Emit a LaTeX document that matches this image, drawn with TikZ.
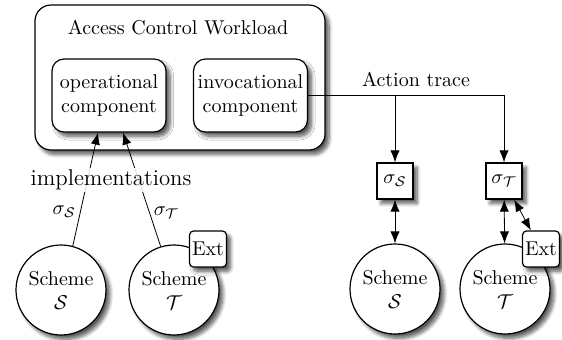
\documentclass[tikz,border=0pt]{standalone}
\usepackage{amsmath}
\usetikzlibrary{arrows.meta, shadows.blur}

\begin{document}
\begin{tikzpicture}[x=0.5pt, y=-0.5pt,
    shd/.style={blur shadow={shadow blur steps=8, shadow blur radius=1.8pt, shadow xshift=2pt, shadow yshift=-2.2pt, shadow opacity=65}},
    comp/.style={draw, line width=0.6pt, rounded corners=6pt, fill=white, shd, minimum width=57pt, minimum height=36.5pt, align=center, inner sep=1pt},
    scheme/.style={draw, line width=0.6pt, circle, fill=white, shd, minimum size=45pt, align=center, inner sep=0pt},
    sigbox/.style={draw, line width=0.6pt, fill=white, shd, minimum size=18pt, inner sep=1pt},
    extbox/.style={draw, line width=0.6pt, fill=white, rounded corners=2pt, shd, minimum width=18.5pt, minimum height=18pt, inner sep=1pt},
    >={Latex[length=6pt, width=4.6pt]}]
    \useasboundingbox (0,0) rectangle (562,339);

    % 外框
    \node[draw, line width=0.6pt, rounded corners=8pt, fill=white, shd, minimum width=145pt, minimum height=72.5pt] (acw) at (180,77.5) {};
    \node (title) at (178,28) {Access Control Workload};
    \node[comp] (op) at (109,95.5) {operational\\component};
    \node[comp] (inv) at (250.5,95.5) {invocational\\component};

    % 左边的方案
    \node[scheme] (schS1) at (61,290) {Scheme\\$\mathcal{S}$};
    \node[scheme] (schT1) at (174,290) {Scheme\\$\mathcal{T}$};
    \node[extbox] (ext1) at (208,249) {Ext};

    % 实现
    \draw[->] (schS1.75) -- ([xshift=-5.5pt]op.south) node[pos=0.3, left=1pt, inner sep=1pt] {$\sigma_{\mathcal{S}}$};
    \draw[->] (schT1.107) -- ([xshift=7pt]op.south) node[pos=0.3, right=1pt, inner sep=1pt] {$\sigma_{\mathcal{T}}$};
    \node[fill=white, fill opacity=0.85, text opacity=1, font=\fontsize{11.4}{13}\selectfont, inner sep=1pt] (impl) at (111,180) {implementations};

    % 右边的方案
    \node[sigbox] (sigS) at (395,181) {$\sigma_{\mathcal{S}}$};
    \node[sigbox] (sigT) at (504,181) {$\sigma_{\mathcal{T}}$};
    \node[scheme] (schS2) at (395,289) {Scheme\\$\mathcal{S}$};
    \node[scheme] (schT2) at (505,289) {Scheme\\$\mathcal{T}$};
    \node[extbox] (ext2) at (541,249) {Ext};

    % 动作轨迹
    \draw[->] (inv.east) -| (sigS.north);
    \draw[->] (inv.east) -| (sigT.north);
    \node (trace) at (416,79) {Action trace};
    \draw[<->] (sigS) -- (schS2);
    \draw[<->] (sigT) -- (schT2);
    \draw[<->] (sigT) -- (ext2);
\end{tikzpicture}
\end{document}
